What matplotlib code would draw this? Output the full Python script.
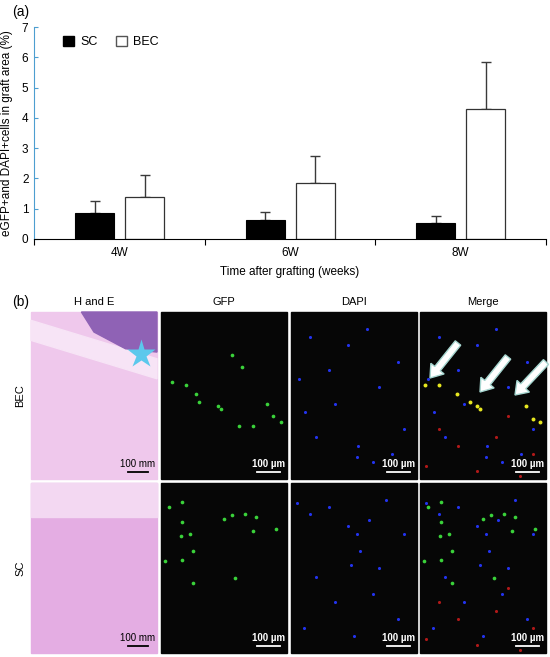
import numpy as np
import matplotlib
matplotlib.use("Agg")
import matplotlib.pyplot as plt
from matplotlib.patches import Rectangle, Polygon, FancyArrow

plt.rcParams['font.family'] = ['Liberation Sans', 'DejaVu Sans']

# ---- data for panel (a) ----
weeks = ['4W', '6W', '8W']
sc_mean = [0.85, 0.63, 0.52]
sc_top = [1.24, 0.89, 0.76]       # top of error bar
bec_mean = [1.39, 1.84, 4.30]
bec_top = [2.10, 2.75, 5.85]

col_titles = ['H and E', 'GFP', 'DAPI', 'Merge']
row_titles = ['BEC', 'SC']

# approximate bright spots in the fluorescence images (fraction of panel, y from top)
gfp_bec = [(0.09, 0.42), (0.20, 0.44), (0.28, 0.49), (0.30, 0.54), (0.45, 0.56), (0.48, 0.58),
           (0.56, 0.26), (0.64, 0.33), (0.62, 0.68), (0.84, 0.55), (0.89, 0.62), (0.95, 0.66),
           (0.73, 0.68)]
gfp_sc = [(0.06, 0.14), (0.17, 0.11), (0.17, 0.23), (0.16, 0.31), (0.23, 0.30), (0.03, 0.46),
          (0.17, 0.45), (0.25, 0.59), (0.50, 0.21), (0.56, 0.19), (0.67, 0.18), (0.75, 0.20),
          (0.73, 0.28), (0.91, 0.27), (0.59, 0.56), (0.25, 0.40)]
dapi_bec = [(0.53, 0.80), (0.52, 0.87), (0.06, 0.40), (0.11, 0.60), (0.30, 0.35), (0.45, 0.20),
            (0.70, 0.45), (0.85, 0.30), (0.20, 0.75), (0.65, 0.90), (0.90, 0.70), (0.35, 0.55),
            (0.60, 0.10), (0.15, 0.15), (0.80, 0.85)]
dapi_sc = [(0.05, 0.12), (0.15, 0.18), (0.30, 0.14), (0.45, 0.25), (0.52, 0.30), (0.55, 0.40),
           (0.48, 0.48), (0.62, 0.22), (0.75, 0.10), (0.90, 0.30), (0.20, 0.55), (0.35, 0.70),
           (0.65, 0.65), (0.85, 0.80), (0.10, 0.85), (0.50, 0.90), (0.70, 0.50)]
merge_yellow = [(0.04, 0.44), (0.15, 0.44), (0.29, 0.49), (0.40, 0.54), (0.45, 0.56), (0.48, 0.58),
                (0.84, 0.56), (0.90, 0.64), (0.95, 0.66)]
merge_red = [(0.05, 0.92), (0.79, 0.98), (0.30, 0.80), (0.60, 0.75), (0.90, 0.85), (0.15, 0.70),
             (0.45, 0.95), (0.70, 0.62)]

W, H = 550, 657
fig = plt.figure(figsize=(W / 100, H / 100), dpi=100)


def px_axes(x0, y0, x1, y1):
    return fig.add_axes([x0 / W, 1 - y1 / H, (x1 - x0) / W, (y1 - y0) / H])


# ---- panel (a): bar chart ----
ax = px_axes(34, 27, 546, 239)
x = np.arange(len(weeks)) + 0.5
bw = 0.228
sc_err = [t - m for t, m in zip(sc_top, sc_mean)]
bec_err = [t - m for t, m in zip(bec_top, bec_mean)]
ax.bar(x - 0.145, sc_mean, bw, color='black', edgecolor='black', linewidth=0.8, zorder=2)
ax.bar(x + 0.148, bec_mean, bw, color='white', edgecolor='#333333', linewidth=0.9, zorder=2)
ax.errorbar(x - 0.145, sc_mean, yerr=[np.zeros(3), sc_err], fmt='none', ecolor='#3a3a3a',
            elinewidth=1.0, capsize=3.5, capthick=1.0, zorder=1)
ax.errorbar(x + 0.148, bec_mean, yerr=[np.zeros(3), bec_err], fmt='none', ecolor='#3a3a3a',
            elinewidth=1.0, capsize=3.5, capthick=1.0, zorder=1)

ax.set_xlim(0, 3)
ax.set_ylim(0, 7)
ax.set_yticks(range(8))
ax.set_xticks([0, 1, 2, 3])
ax.set_xticklabels([])
ax.set_xticks(x, minor=True)
ax.set_xticklabels(weeks, minor=True, fontsize=8.5)
ax.tick_params(axis='x', which='minor', length=0, pad=6)
ax.tick_params(axis='x', which='major', direction='out', length=4, width=0.8)
ax.tick_params(axis='y', direction='in', length=3, width=0.8, color='#4d9ed0', labelsize=8.5, pad=4)
for s in ['top', 'right']:
    ax.spines[s].set_visible(False)
ax.spines['left'].set_color('#4d9ed0')
ax.spines['bottom'].set_linewidth(0.8)
ax.set_ylabel('eGFP+and DAPI+cells in graft area (%)', fontsize=8.5, labelpad=6)
ax.set_xlabel('Time after grafting (weeks)', fontsize=8.5, labelpad=5)

handles = [Rectangle((0, 0), 1, 1, facecolor='black', edgecolor='black'),
           Rectangle((0, 0), 1, 1, facecolor='white', edgecolor='#555555')]
ax.legend(handles, ['SC', 'BEC'], ncol=2, frameon=False, loc='center left',
          bbox_to_anchor=(0.035, 0.93), fontsize=9, handlelength=0.9, handleheight=0.9,
          handletextpad=0.5, columnspacing=1.4)

# ---- panel (b): image panels drawn on a pixel overlay ----
ov = fig.add_axes([0, 0, 1, 1])
ov.set_xlim(0, W)
ov.set_ylim(H, 0)
ov.axis('off')
ov.set_zorder(-1)

cols = [(31, 157), (161, 287), (291, 417), (420, 546)]
rows = [(312, 479), (483, 653)]

fig.text(12 / W, 1 - 12 / H, '(a)', fontsize=10, va='center', ha='left')
fig.text(12 / W, 1 - 302 / H, '(b)', fontsize=10, va='center', ha='left')
for (c0, c1), t in zip(cols, col_titles):
    ov.text((c0 + c1) / 2, 302, t, fontsize=8, ha='center', va='center')
for (r0, r1), t in zip(rows, row_titles):
    ov.text(20, (r0 + r1) / 2, t, fontsize=8, ha='center', va='center', rotation=90)


def to_px(pts, c, r):
    (c0, c1), (r0, r1) = c, r
    return ([c0 + fx * (c1 - c0) for fx, fy in pts], [r0 + fy * (r1 - r0) for fx, fy in pts])


for ri, r in enumerate(rows):
    r0, r1 = r
    # H and E
    c0, c1 = cols[0]
    pw, ph = c1 - c0, r1 - r0
    if ri == 0:
        ov.add_patch(Rectangle((c0, r0), pw, ph, color='#efc8ec'))
        ov.add_patch(Polygon([(c0, r0 + 0.05 * ph), (c0, r0 + 0.17 * ph), (c1, r0 + 0.40 * ph),
                              (c1, r0 + 0.28 * ph)], color='#f7e4f6'))
        ov.add_patch(Polygon([(c0 + 0.40 * pw, r0), (c1, r0), (c1, r0 + 0.24 * ph),
                              (c0 + 0.75 * pw, r0 + 0.22 * ph), (c0 + 0.50 * pw, r0 + 0.12 * ph)],
                             color='#8f62b5'))
        ov.plot([c0 + 0.87 * pw], [r0 + 0.25 * ph], marker='*', ms=21, color='#5cc8ec', mec='none')
    else:
        ov.add_patch(Rectangle((c0, r0), pw, ph, color='#e4ade3'))
        ov.add_patch(Rectangle((c0, r0), pw, 0.2 * ph, color='#f3d8f2'))
    ov.plot([c1 - 29, c1 - 9], [r1 - 7, r1 - 7], color='black', lw=1.3)
    ov.text(c1 - 19, r1 - 15, '100 mm', fontsize=7, ha='center', va='center', color='black')

    # fluorescence panels
    for ci in range(1, 4):
        c0, c1 = cols[ci]
        ov.add_patch(Rectangle((c0, r0), c1 - c0, r1 - r0, color='#060606'))
        ov.plot([c1 - 30, c1 - 7], [r1 - 7, r1 - 7], color='white', lw=1.3)
        ov.text(c1 - 18, r1 - 15, '100 \u00b5m', fontsize=7, ha='center', va='center',
                color='white', fontweight='bold')

    gfp = gfp_bec if ri == 0 else gfp_sc
    dapi = dapi_bec if ri == 0 else dapi_sc
    gx, gy = to_px(gfp, cols[1], r)
    ov.scatter(gx, gy, s=7, color='#3ad23a', lw=0)
    dx, dy = to_px(dapi, cols[2], r)
    ov.scatter(dx, dy, s=5, color='#2233ee', lw=0)
    mdx, mdy = to_px(dapi, cols[3], r)
    ov.scatter(mdx, mdy, s=5, color='#2233ee', lw=0)
    rx, ry = to_px(merge_red, cols[3], r)
    ov.scatter(rx, ry, s=5, color='#b01818', lw=0)
    if ri == 0:
        yx, yy = to_px(merge_yellow, cols[3], r)
        ov.scatter(yx, yy, s=8, color='#e8e820', lw=0)
    else:
        mx, my = to_px(gfp, cols[3], r)
        ov.scatter(mx, my, s=7, color='#3ad23a', lw=0)

# white arrows in merge BEC panel
for tx, ty, hx, hy in [(458, 343, 430, 378), (508, 357, 480, 392), (546, 362, 515, 395)]:
    ov.add_patch(FancyArrow(tx, ty, hx - tx, hy - ty, width=7, head_width=17, head_length=12,
                            length_includes_head=True, facecolor='white', edgecolor='#a6d6d0', lw=1))

fig.savefig('out.png', dpi=100)
